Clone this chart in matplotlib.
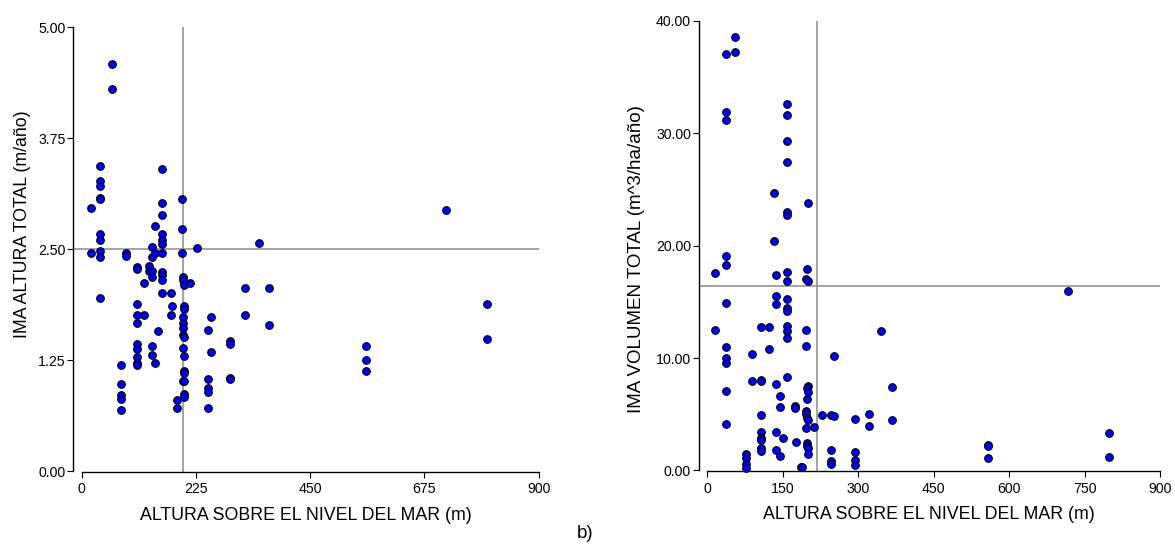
import matplotlib
matplotlib.use("Agg")
import matplotlib.pyplot as plt
from matplotlib.ticker import FormatStrFormatter

plt.rcParams["font.family"] = ["Liberation Sans", "DejaVu Sans"]

# altitude (m) vs mean annual height increment (m/year)
alt_a = [59, 59, 37, 37, 37, 37, 37, 19, 37, 37, 37, 37, 37, 19, 87, 87,
         159, 159, 159, 145, 159, 159, 159, 159, 138, 138, 145,
         198, 198, 198, 228, 349,
         109, 109, 133, 133, 138, 138, 122, 159, 159, 159, 159,
         175, 177, 175, 151, 122, 109, 109, 109, 109, 109, 109, 109, 109,
         138, 138, 145, 77, 77, 77, 77, 77, 188, 188,
         199, 199, 201, 213,
         201, 201, 199, 199, 199, 199, 201, 199, 201, 201, 201, 199, 201, 201, 201,
         249, 254, 254, 249, 249, 249, 249,
         293, 293, 293, 293, 322, 322, 368, 368,
         560, 560, 560, 718, 798, 798]
ima_a = [4.58, 4.30, 3.44, 3.27, 3.21, 3.08, 3.06, 2.96, 2.67, 2.60, 2.48, 2.41, 1.95, 2.46, 2.46, 2.42,
         3.40, 3.02, 2.88, 2.76, 2.67, 2.60, 2.56, 2.46, 2.52, 2.41, 2.46,
         3.06, 2.73, 2.46, 2.51, 2.57,
         2.30, 2.27, 2.31, 2.25, 2.25, 2.18, 2.12, 2.24, 2.21, 2.15, 2.01,
         2.00, 1.86, 1.76, 1.58, 1.76, 1.88, 1.76, 1.67, 1.43, 1.37, 1.28, 1.22, 1.19,
         1.41, 1.31, 1.22, 1.19, 0.98, 0.86, 0.81, 0.69, 0.80, 0.71,
         2.18, 2.15, 2.09, 2.12,
         1.86, 1.82, 1.73, 1.67, 1.61, 1.53, 1.51, 1.38, 1.29, 1.13, 1.10, 1.01, 1.01, 0.87, 0.83,
         1.59, 1.74, 1.34, 1.04, 0.93, 0.89, 0.71,
         1.47, 1.43, 1.05, 1.04, 2.06, 1.76, 2.06, 1.65,
         1.41, 1.25, 1.13, 2.94, 1.88, 1.49]

# altitude (m) vs mean annual volume increment (m3/ha/year)
alt_b = [56, 56, 38, 38, 38,
         158, 158, 158, 158, 132, 201, 158, 158, 132,
         38, 38, 16, 137, 158, 158, 199, 196, 201,
         38, 137, 137, 158, 158, 158, 158, 158, 158,
         16, 107, 123, 123, 196, 196,
         38, 38, 38, 38, 38,
         89, 89, 107, 107, 137, 158,
         145, 145, 175, 175,
         196, 196, 199, 199, 201, 199, 201, 196, 201, 212,
         107, 107, 107, 107, 107, 107,
         137, 150, 137, 145, 177,
         199, 199, 201, 201, 186, 188,
         78, 78, 78, 78,
         228, 247, 252, 252, 293, 322, 322, 346, 368, 368,
         247, 247, 247, 293, 293, 293,
         559, 559, 559, 718, 798, 798]
ima_b = [38.60, 37.26, 37.03, 31.87, 31.16,
         32.58, 31.60, 29.34, 27.42, 24.66, 23.80, 22.97, 22.73, 20.45,
         19.11, 18.26, 17.57, 17.42, 17.66, 16.83, 17.90, 17.07, 16.83,
         14.90, 15.52, 14.79, 15.26, 14.43, 14.19, 12.88, 12.41, 11.81,
         12.50, 12.74, 12.74, 10.84, 12.50, 11.05,
         10.96, 10.01, 9.59, 7.07, 4.11,
         10.34, 7.94, 8.05, 7.94, 7.70, 8.29,
         6.60, 5.65, 5.77, 5.53,
         5.29, 5.05, 4.70, 6.36, 7.54, 7.31, 6.96, 3.75, 4.47, 3.87,
         4.94, 3.40, 2.92, 2.69, 1.98, 1.73,
         3.40, 2.92, 1.80, 1.32, 2.57,
         2.45, 2.21, 1.98, 1.50, 0.34, 0.34,
         1.50, 1.08, 0.61, 0.25,
         4.94, 4.94, 4.82, 10.21, 4.58, 5.05, 3.99, 12.38, 7.46, 4.47,
         1.80, 0.85, 0.61, 1.67, 0.96, 0.49,
         2.27, 2.15, 1.07, 15.97, 3.36, 1.20]

ticks_x_a = [0, 225, 450, 675, 900]
ticks_y_a = [0, 1.25, 2.50, 3.75, 5.00]
ticks_x_b = [0, 150, 300, 450, 600, 750, 900]
ticks_y_b = [0, 10, 20, 30, 40]

# cut lines drawn across each panel
cut_a = (200, 2.50)
cut_b = (219, 16.4)

xlabel = "ALTURA SOBRE EL NIVEL DEL MAR (m)"


def draw_panel(ax, x, y, cut, xticks, yticks, xlim, ylim, ylabel, label_xy,
               ylabel_size):
  ax.axvline(cut[0], color="#8c8c8c", lw=1.1, zorder=1)
  ax.axhline(cut[1], color="#8c8c8c", lw=1.1, zorder=1)
  ax.scatter(x, y, s=30, facecolor="#0000ff", edgecolor="black",
             linewidth=0.8, zorder=3, clip_on=False)

  ax.set_xlim(*xlim)
  ax.set_ylim(*ylim)
  ax.set_xticks(xticks)
  ax.set_yticks(yticks)
  ax.yaxis.set_major_formatter(FormatStrFormatter("%.2f"))

  for side in ("top", "right"):
    ax.spines[side].set_visible(False)
  ax.spines["left"].set_bounds(yticks[0], yticks[-1])
  ax.spines["bottom"].set_bounds(xticks[0], xticks[-1])
  ax.spines["left"].set_linewidth(1.0)
  ax.spines["bottom"].set_linewidth(1.0)

  ax.tick_params(axis="x", direction="out", length=4.5, width=0.8,
                 labelsize=10.2, pad=3)
  ax.tick_params(axis="y", direction="out", length=4.5, width=0.8,
                 labelsize=10.2, pad=1)

  ax.set_xlabel(xlabel, fontsize=12.8, labelpad=7.5)
  ax.set_ylabel(ylabel, fontsize=ylabel_size)
  ax.yaxis.set_label_coords(*label_xy)


fig = plt.figure(figsize=(11.75, 5.45), dpi=100)

ax_a = fig.add_axes([0.0624, 0.1339, 0.3961, 0.8165])
draw_panel(ax_a, alt_a, ima_a, cut_a, ticks_x_a, ticks_y_a,
           (-16.5, 900), (-0.011, 5.0), "IMA ALTURA TOTAL (m/año)",
           (-0.092, 0.556), 12.8)

ax_b = fig.add_axes([0.5946, 0.1349, 0.3926, 0.8266])
draw_panel(ax_b, alt_b, ima_b, cut_b, ticks_x_b, ticks_y_b,
           (-17.1, 900), (-0.09, 40.0), "IMA VOLUMEN TOTAL (m^3/ha/año)",
           (-0.116, 0.472), 13.5)

fig.text(585 / 1175, 1 - 534 / 545, "b)", ha="center", va="center",
         fontsize=13.5)

fig.savefig("out.png", dpi=100)
